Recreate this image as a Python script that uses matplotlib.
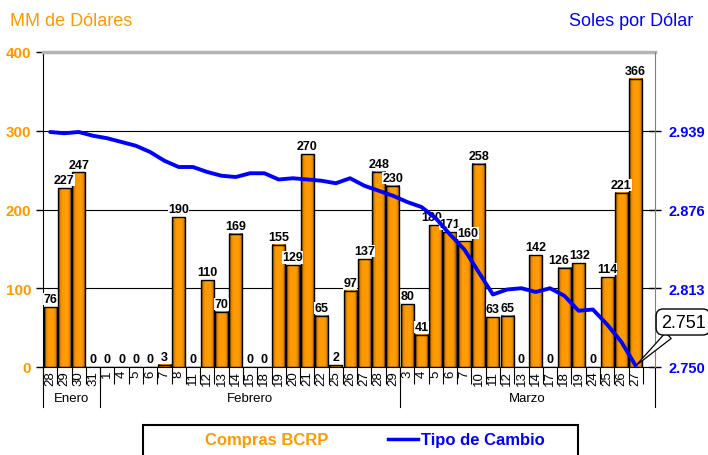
import numpy as np
import matplotlib
matplotlib.use('Agg')
import matplotlib.pyplot as plt
from matplotlib.colors import LinearSegmentedColormap
from matplotlib.patches import Rectangle
from matplotlib.lines import Line2D
import matplotlib.transforms as mtransforms

# data
days = ['28', '29', '30', '31',
        '1', '4', '5', '6', '7', '8', '11', '12', '13', '14', '15', '18', '19', '20',
        '21', '22', '25', '26', '27', '28', '29',
        '3', '4', '5', '6', '7', '10', '11', '12', '13', '14', '17', '18', '19', '24',
        '25', '26', '27']
months = ['Enero', 'Febrero', 'Marzo']
month_len = [4, 21, 17]
compras = [76, 227, 247, 0,
           0, 0, 0, 0, 3, 190, 0, 110, 70, 169, 0, 0, 155, 129, 270, 65, 2, 97, 137, 248, 230,
           80, 41, 180, 171, 160, 258, 63, 65, 0, 142, 0, 126, 132, 0, 114, 221, 366]
tipo_cambio = [2.938, 2.937, 2.938, 2.935,
               2.933, 2.930, 2.927, 2.922, 2.915, 2.910, 2.910, 2.906, 2.903, 2.902, 2.905,
               2.905, 2.900, 2.901, 2.900, 2.899, 2.897, 2.901, 2.895, 2.891, 2.887,
               2.882, 2.878, 2.869, 2.856, 2.844, 2.826, 2.808, 2.812, 2.813, 2.810,
               2.813, 2.807, 2.795, 2.796, 2.784, 2.770, 2.751]
right_ticks = [2.750, 2.813, 2.876, 2.939]

ORANGE = '#FF9900'
BLUE = '#0000FF'
plt.rcParams['font.family'] = ['Liberation Sans', 'DejaVu Sans']

fig = plt.figure(figsize=(7.08, 4.56), dpi=100)
ax = fig.add_axes([43/708, 1-368/456, 612/708, 315/456])

x = np.arange(len(days))
w = 0.92
# orange cylinder look: thin dark edges, flat orange middle
cmap = LinearSegmentedColormap.from_list('bar', [(0, '#4a2400'), (0.14, '#d98200'),
                                                 (0.3, '#ff9900'), (0.7, '#ff9b05'),
                                                 (0.86, '#d98200'), (1, '#4a2400')])
grad = np.linspace(0, 1, 64).reshape(1, -1)
for xi, v in zip(x, compras):
    if v > 0:
        ax.imshow(grad, extent=(xi - w/2, xi + w/2, 0, v), aspect='auto', cmap=cmap,
                  interpolation='bilinear', zorder=2)
ax.bar(x, compras, w, facecolor='none', edgecolor='black', lw=1, zorder=2.5)

# a few labels sit off-centre in the original so they don't collide
nudge = {27: -0.3, 29: 0.25, 36: -0.4, 37: 0.1}
for xi, v in zip(x, compras):
    ax.text(xi + nudge.get(xi, 0), v + 2.5, str(v), ha='center', va='bottom', fontsize=9,
            fontweight='bold', zorder=3,
            bbox=dict(facecolor='white', edgecolor='none', pad=0.1))

ax.set_xlim(-0.5, 42.35)
ax.set_ylim(0, 400)
ax.set_yticks([0, 100, 200, 300, 400])
ax.tick_params(axis='y', colors='black', labelcolor=ORANGE, labelsize=11, length=5, width=1)
for t in ax.get_yticklabels():
    t.set_fontweight('bold')
ax.yaxis.grid(True, color='black', lw=0.8)
ax.set_axisbelow(True)

ax.set_xticks(x)
ax.set_xticklabels(days, rotation=90, fontsize=9.5)
ax.set_xticks(np.arange(-0.5, 42, 1), minor=True)
ax.tick_params(axis='x', which='major', length=0, pad=2)
ax.tick_params(axis='x', which='minor', length=12.5, width=0.8)

for s in ['left', 'bottom']:
    ax.spines[s].set_color('black')
ax.spines['top'].set_color('#b4b4b4')
ax.spines['top'].set_linewidth(2.5)
ax.spines['right'].set_visible(False)

# month groups under the day labels
trans = mtransforms.blended_transform_factory(ax.transData, ax.transAxes)
edges = np.concatenate([[-0.5], np.cumsum(month_len) - 0.5])
edges[-1] = 42.35
for e in edges:
    ax.add_line(Line2D([e, e], [0, -0.127], transform=trans, color='black', lw=0.8,
                       clip_on=False))
for m, a, b in zip(months, edges[:-1], edges[1:]):
    ax.text((a + b) / 2, -0.098, m, transform=trans, ha='center', va='center', fontsize=9.5)

# exchange rate on the right axis
ax2 = ax.twinx()
ax2.plot(x, tipo_cambio, color=BLUE, lw=2.8, solid_joinstyle='round', solid_capstyle='round',
         zorder=4)
ax2.set_ylim(2.750, 2.750 + 0.063 * 4)
ax2.set_yticks(right_ticks)
ax2.set_yticklabels(['%.3f' % t for t in right_ticks])
ax2.tick_params(axis='y', direction='inout', length=9, width=1, colors='black',
                labelcolor=BLUE, labelsize=10.5, pad=5)
for t in ax2.get_yticklabels():
    t.set_fontweight('bold')
ax2.spines['right'].set_color('#808080')
ax2.spines['top'].set_visible(False)
ax2.spines['left'].set_visible(False)
ax2.spines['bottom'].set_visible(False)

ax2.annotate('%.3f' % tipo_cambio[-1], xy=(x[-1], tipo_cambio[-1]),
             xytext=(683/708, 1-323/456), textcoords='figure fraction',
             ha='center', va='center', fontsize=13, annotation_clip=False,
             bbox=dict(boxstyle='round,pad=0.25,rounding_size=0.4', fc='white', ec='black', lw=1),
             arrowprops=dict(arrowstyle='wedge,tail_width=0.45', fc='white', ec='black', lw=0.9,
                             shrinkA=0, shrinkB=0))

fig.text(10/708, 1-22/456, 'MM de Dólares', color=ORANGE, fontsize=13,
         ha='left', va='center')
fig.text(693/708, 1-22/456, 'Soles por Dólar', color=BLUE, fontsize=13,
         ha='right', va='center')

# legend box
fig.patches.append(Rectangle((143/708, -0.05), 435/708, 0.05 + 1-426/456,
                             transform=fig.transFigure, fc='white', ec='black', lw=1.5))
lax = fig.add_axes([172/708, 1-448/456, 30/708, 10/456])
lax.imshow(grad, aspect='auto', cmap=cmap, interpolation='bilinear')
lax.set_axis_off()
fig.text(205/708, 1-441/456, 'Compras BCRP', color=ORANGE, fontsize=12, fontweight='bold',
         ha='left', va='center')
fig.lines.append(Line2D([388/708, 418/708], [1-440/456, 1-440/456], transform=fig.transFigure,
                        color=BLUE, lw=2.5))
fig.text(421/708, 1-441/456, 'Tipo de Cambio', color=BLUE, fontsize=12, fontweight='bold',
         ha='left', va='center')

fig.savefig('out.png', dpi=100)
